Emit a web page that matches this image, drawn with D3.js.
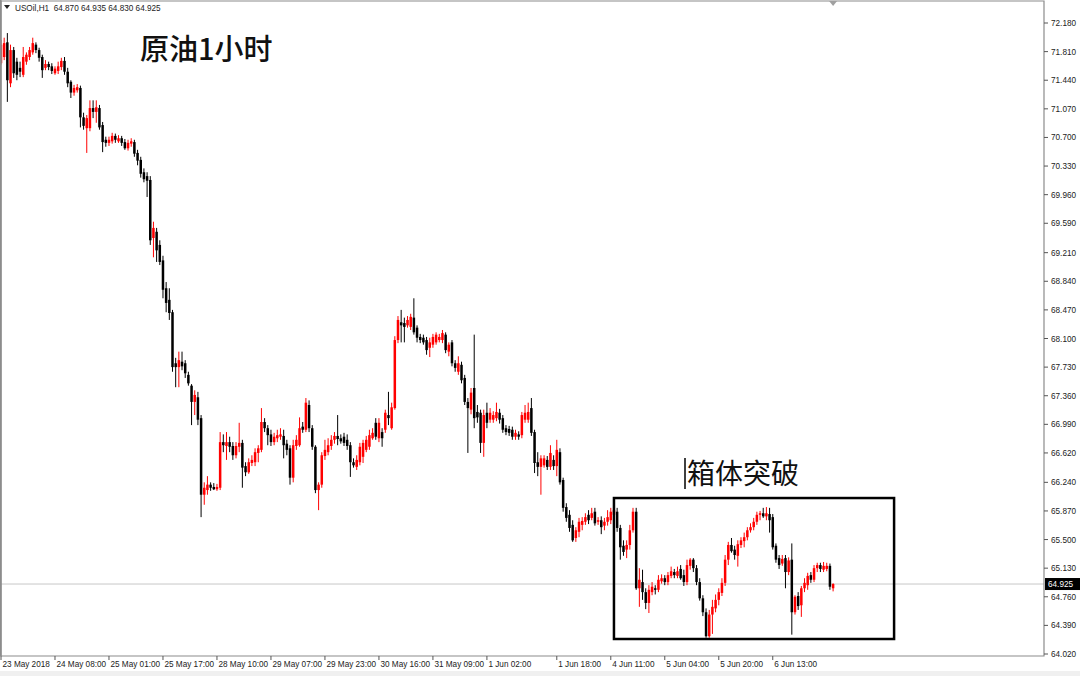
<!DOCTYPE html>
<html>
<head>
<meta charset="utf-8">
<script src="https://cdn.jsdelivr.net/npm/d3@7"></script>
<style>
  html, body { margin: 0; padding: 0; background: #ffffff; }
  svg { display: block; }
</style>
</head>
<body>
<svg id="chart" width="1080" height="676"></svg>
<script>
// ---- DATA (USOil H1, [open, high, low, close]) ----
const ohlc = [
[71.66,71.96,71.64,71.90],[71.74,71.99,71.70,71.92],[71.93,72.05,71.16,71.44],[71.40,71.90,71.35,71.83],
[71.83,71.87,71.47,71.53],[71.68,71.73,71.44,71.51],[71.60,71.68,71.48,71.55],[71.51,71.87,71.48,71.74],
[71.68,71.80,71.64,71.77],[71.74,71.87,71.70,71.83],[71.80,71.99,71.77,71.92],[71.90,71.93,71.79,71.83],
[71.83,71.86,71.68,71.73],[71.74,71.77,71.47,71.57],[71.60,71.70,71.57,71.65],[71.65,71.68,71.57,71.61],
[71.62,71.66,71.52,71.56],[71.53,71.62,71.51,71.59],[71.56,71.68,71.52,71.62],[71.61,71.73,71.57,71.69],
[71.69,71.74,71.51,71.55],[71.55,71.60,71.35,71.40],[71.42,71.44,71.21,71.28],[71.28,71.38,71.24,71.34],
[71.31,71.39,71.28,71.35],[71.34,71.37,70.83,70.96],[70.96,71.02,70.80,70.85],[70.82,70.99,70.50,70.95],
[70.82,71.18,70.78,71.08],[71.08,71.18,70.95,71.03],[71.03,71.18,70.89,71.09],[71.08,71.12,70.80,70.83],
[70.86,70.90,70.51,70.64],[70.67,70.71,70.58,70.63],[70.63,70.71,70.59,70.67],[70.65,70.76,70.62,70.72],
[70.72,70.75,70.63,70.67],[70.65,70.73,70.63,70.69],[70.69,70.72,70.59,70.63],[70.64,70.68,70.54,70.56],
[70.56,70.67,70.53,70.63],[70.62,70.69,70.58,70.65],[70.64,70.67,70.45,70.49],[70.50,70.54,70.34,70.40],
[70.41,70.45,70.18,70.23],[70.25,70.30,70.12,70.16],[70.20,70.25,69.93,70.14],[70.15,70.20,69.31,69.37],
[69.40,69.61,69.15,69.53],[69.48,69.53,69.09,69.24],[69.31,69.37,69.05,69.09],[69.11,69.17,68.62,68.73],
[68.75,68.83,68.44,68.56],[68.60,68.75,68.34,68.43],[68.44,68.47,67.67,67.73],[67.78,67.85,67.47,67.73],
[67.73,67.93,67.47,67.82],[67.80,67.93,67.69,67.74],[67.78,67.82,67.59,67.65],[67.63,67.67,67.49,67.52],
[67.49,67.51,66.98,67.28],[67.28,67.43,67.11,67.37],[67.34,67.41,66.98,67.05],[67.07,67.11,65.79,66.08],
[66.08,66.24,65.95,66.17],[66.14,66.32,66.08,66.21],[66.21,66.24,66.13,66.17],[66.18,66.23,66.14,66.15],
[66.15,66.22,66.13,66.18],[66.17,66.89,66.14,66.76],[66.76,66.86,66.63,66.72],[66.71,66.89,66.53,66.76],
[66.76,66.83,66.63,66.70],[66.71,66.76,66.53,66.59],[66.59,66.76,66.55,66.71],[66.70,67.01,66.63,66.75],
[66.75,66.79,66.17,66.43],[66.45,66.50,66.32,66.37],[66.37,66.55,66.35,66.50],[66.49,66.59,66.45,66.53],
[66.50,66.68,66.45,66.63],[66.62,66.72,66.50,66.68],[66.66,67.20,66.63,67.02],[67.02,67.07,66.89,66.94],
[66.94,66.98,66.72,66.85],[66.86,66.92,66.71,66.76],[66.76,66.88,66.72,66.83],[66.81,66.92,66.76,66.85],
[66.83,66.94,66.79,66.86],[66.84,66.92,66.55,66.72],[66.74,66.79,66.59,66.66],[66.68,66.72,66.21,66.30],
[66.30,66.79,66.24,66.72],[66.71,66.85,66.66,66.79],[66.72,67.08,66.70,66.94],[66.96,67.02,66.88,66.92],
[66.92,67.33,66.89,67.27],[67.24,67.30,66.89,66.94],[66.94,66.98,66.66,66.70],[66.70,66.72,66.10,66.14],
[66.14,66.24,65.88,66.21],[66.21,66.63,66.17,66.59],[66.58,66.79,66.53,66.66],[66.63,66.81,66.59,66.72],
[66.71,66.85,66.66,66.79],[66.79,66.89,66.74,66.84],[66.84,67.11,66.72,66.80],[66.81,66.86,66.74,66.77],
[66.83,66.88,66.71,66.75],[66.79,66.86,66.66,66.71],[66.72,66.76,66.31,66.50],[66.50,66.55,66.43,66.46],
[66.44,66.59,66.40,66.53],[66.50,66.75,66.46,66.70],[66.57,66.79,66.49,66.75],[66.66,66.84,66.63,66.79],
[66.70,66.92,66.66,66.85],[66.81,66.94,66.79,66.88],[67.01,67.07,66.79,66.83],[66.81,67.07,66.76,67.01],
[66.89,66.94,66.70,66.81],[66.92,67.18,66.88,67.14],[67.11,67.41,66.98,67.07],[66.94,67.27,66.92,67.21],
[67.20,68.13,67.18,68.08],[68.08,68.39,68.04,68.34],[68.31,68.47,68.05,68.27],[68.30,68.37,68.05,68.25],
[68.27,68.39,68.24,68.34],[68.25,68.42,68.21,68.38],[68.37,68.62,68.15,68.18],[68.24,68.27,68.05,68.11],
[68.12,68.16,68.04,68.08],[68.11,68.15,68.02,68.05],[68.08,68.12,67.89,67.95],[67.98,68.11,67.86,68.05],
[68.02,68.16,67.98,68.12],[68.05,68.18,68.02,68.15],[68.08,68.16,68.05,68.12],[68.08,68.21,68.04,68.17],
[68.15,68.18,67.91,67.95],[67.93,68.05,67.87,68.02],[68.05,68.08,67.74,67.78],[67.78,67.82,67.67,67.72],
[67.67,67.87,67.63,67.78],[67.76,67.80,67.52,67.56],[67.59,67.63,67.24,67.28],[67.28,67.33,66.62,67.20],
[67.18,67.46,67.12,67.40],[67.46,68.15,66.94,67.07],[67.15,67.24,67.01,67.08],[67.14,67.18,66.62,66.75],
[66.75,67.18,66.57,67.11],[67.14,67.27,66.94,67.01],[67.05,67.20,67.01,67.14],[67.05,67.16,67.01,67.11],
[67.07,67.27,67.03,67.15],[67.14,67.19,67.00,67.05],[67.07,67.11,66.88,66.92],[66.94,66.98,66.85,66.89],
[66.93,66.97,66.84,66.88],[66.92,66.96,66.79,66.83],[66.83,66.92,66.79,66.88],[66.86,66.90,66.79,66.83],
[66.85,67.15,66.81,67.11],[67.05,67.24,67.01,67.14],[67.05,67.27,67.01,67.15],[67.20,67.33,66.84,66.88],
[66.89,66.92,66.36,66.49],[66.50,66.63,66.32,66.44],[66.44,66.59,66.08,66.55],[66.46,66.59,66.43,66.55],
[66.53,66.58,66.40,66.44],[66.44,66.72,66.40,66.62],[66.53,66.59,66.40,66.45],[66.45,66.79,66.32,66.66],
[66.63,66.68,66.21,66.24],[66.27,66.30,65.86,65.91],[65.92,65.97,65.73,65.78],[65.82,65.88,65.60,65.65],
[65.69,65.75,65.47,65.49],[65.52,65.66,65.47,65.62],[65.60,65.78,65.53,65.73],[65.69,65.79,65.62,65.74],
[65.73,65.84,65.69,65.79],[65.82,65.88,65.70,65.75],[65.78,65.91,65.75,65.84],[65.86,65.91,65.68,65.71],
[65.73,65.79,65.69,65.75],[65.75,65.80,65.57,65.66],[65.68,65.78,65.62,65.73],[65.73,65.88,65.68,65.79],
[65.75,65.91,65.70,65.86],[65.82,65.93,65.75,65.88],[65.86,65.91,65.60,65.65],[65.65,65.69,65.24,65.40],
[65.42,65.49,65.29,65.34],[65.37,65.49,65.26,65.43],[65.43,65.69,65.37,65.62],[65.62,65.91,65.59,65.86],
[65.86,65.91,64.85,64.87],[64.87,65.13,64.63,64.98],[64.95,65.11,64.72,64.82],[64.82,64.87,64.60,64.68],
[64.68,64.91,64.55,64.85],[64.82,64.95,64.78,64.89],[64.87,64.91,64.79,64.85],[64.85,65.04,64.82,64.98],
[64.96,65.05,64.93,65.00],[65.00,65.04,64.91,64.95],[64.95,65.08,64.91,65.04],[65.03,65.15,65.00,65.09],
[65.08,65.12,65.00,65.04],[65.03,65.15,65.00,65.09],[65.12,65.17,64.98,65.00],[65.04,65.11,64.90,64.95],
[64.95,65.24,64.91,65.17],[65.16,65.26,65.11,65.24],[65.24,65.26,65.08,65.13],[65.13,65.17,64.91,64.95],
[64.95,65.00,64.71,64.74],[64.74,64.78,64.51,64.56],[64.56,64.61,64.23,64.25],[64.25,64.59,64.23,64.53],
[64.53,64.72,64.28,64.63],[64.61,64.79,64.56,64.72],[64.72,64.87,64.65,64.82],[64.81,65.00,64.77,64.94],
[64.94,65.30,64.90,65.24],[65.24,65.47,65.17,65.43],[65.43,65.52,65.33,65.35],[65.37,65.42,65.24,65.30],
[65.29,65.49,65.15,65.44],[65.43,65.53,65.39,65.49],[65.48,65.59,65.40,65.53],[65.53,65.66,65.49,65.62],
[65.62,65.71,65.59,65.66],[65.66,65.78,65.62,65.73],[65.73,65.86,65.69,65.82],[65.82,65.87,65.75,65.84],
[65.84,65.91,65.78,65.80],[65.80,65.92,65.75,65.84],[65.83,65.91,65.59,65.75],[65.79,65.83,65.37,65.40],
[65.42,65.45,65.20,65.24],[65.26,65.30,65.12,65.17],[65.19,65.30,65.16,65.25],[65.26,65.30,64.87,65.08],
[65.08,65.27,65.04,65.23],[65.24,65.45,64.27,64.56],[64.56,64.78,64.53,64.76],[64.77,64.82,64.59,64.64],
[64.65,64.90,64.50,64.87],[64.87,65.00,64.82,64.94],[64.91,65.07,64.85,65.03],[65.04,65.08,64.94,64.98],
[64.98,65.17,64.95,65.13],[65.13,65.20,65.08,65.17],[65.17,65.20,65.08,65.12],[65.11,65.21,65.08,65.16],
[65.12,65.20,65.09,65.16],[65.16,65.19,64.85,64.89],[64.870,64.935,64.830,64.925]
];

const priceTicks = [72.180,71.810,71.440,71.070,70.700,70.330,69.960,69.590,69.210,68.840,68.470,68.100,
                    67.730,67.360,66.990,66.620,66.240,65.870,65.500,65.130,64.760,64.390,64.020];
const timeTickBars = [0,17,34,51,68,85,102,119,136,153,175,192,209,226,243];
const timeTickLabels = ["23 May 2018","24 May 08:00","25 May 01:00","25 May 17:00","28 May 10:00",
  "29 May 07:00","29 May 23:00","30 May 16:00","31 May 09:00","1 Jun 02:00","1 Jun 18:00",
  "4 Jun 11:00","5 Jun 04:00","5 Jun 20:00","6 Jun 13:00"];
const symbolLabel = "USOil,H1";
const lastBarValues = ["64.870","64.935","64.830","64.925"];
const currentPrice = 64.925;
const titleText = "原油1小时";
const boxLabel = "箱体突破";
const boxFromBar = 193.0, boxToBar = 281.2;
const boxTopPrice = 66.037, boxBottomPrice = 64.214;

// ---- LAYOUT ----
const W = 1080, H = 676;
const plot = { left: 1, right: 1044, top: 1, bottom: 656 };
const svg = d3.select("#chart");

const y = d3.scaleLinear().domain([64.02, 72.18]).range([654, 23]);
const x = d3.scaleLinear().domain([0, ohlc.length - 1]).range([1, 833.1]);
const bodyW = 2.5;

// background
svg.append("rect").attr("x", 0).attr("y", 0).attr("width", W).attr("height", H).attr("fill", "#ffffff");
svg.append("rect").attr("x", 0).attr("y", 671).attr("width", W).attr("height", 5).attr("fill", "#f0f0f0");

// current price line
svg.append("line")
  .attr("x1", plot.left).attr("x2", plot.right)
  .attr("y1", y(currentPrice)).attr("y2", y(currentPrice))
  .attr("stroke", "#c8c8c8").attr("stroke-width", 1);

// candles
const g = svg.append("g");
const up = d => d[3] >= d[0];
g.selectAll("line.wick").data(ohlc).join("line")
  .attr("class", "wick")
  .attr("x1", (d, i) => x(i)).attr("x2", (d, i) => x(i))
  .attr("y1", d => y(d[1])).attr("y2", d => y(d[2]))
  .attr("stroke", d => up(d) ? "#ff0000" : "#000000")
  .attr("stroke-width", 1);
g.selectAll("rect.body").data(ohlc).join("rect")
  .attr("class", "body")
  .attr("x", (d, i) => x(i) - bodyW / 2)
  .attr("y", d => y(Math.max(d[0], d[3])))
  .attr("width", bodyW)
  .attr("height", d => Math.max(1, Math.abs(y(d[0]) - y(d[3]))))
  .attr("fill", d => up(d) ? "#ff0000" : "#000000");

// frame
svg.append("path")
  .attr("d", `M${plot.left},${plot.top}H${plot.right}V${plot.bottom}H${plot.left}Z`)
  .attr("fill", "none").attr("stroke", "#8c8c8c").attr("stroke-width", 1.2);
svg.append("line").attr("x1", 0.8).attr("x2", 0.8).attr("y1", 0).attr("y2", plot.bottom)
  .attr("stroke", "#8c8c8c").attr("stroke-width", 1.6);

// right price axis
const ya = svg.append("g");
ya.selectAll("line").data(priceTicks).join("line")
  .attr("x1", plot.right).attr("x2", plot.right + 4)
  .attr("y1", d => y(d)).attr("y2", d => y(d))
  .attr("stroke", "#555").attr("stroke-width", 1);
ya.selectAll("text").data(priceTicks).join("text")
  .attr("x", plot.right + 7).attr("y", d => y(d) + 3)
  .attr("font-family", "'Liberation Sans', Arial, sans-serif").attr("font-size", 8.2)
  .attr("fill", "#222")
  .text(d => d3.format(".3f")(d));

// current price tag
svg.append("rect").attr("x", plot.right + 1).attr("y", y(currentPrice) - 6)
  .attr("width", 35).attr("height", 12).attr("fill", "#000");
svg.append("text").attr("x", plot.right + 4).attr("y", y(currentPrice) + 3)
  .attr("font-family", "'Liberation Sans', Arial, sans-serif").attr("font-size", 8.2)
  .attr("fill", "#fff").text(d3.format(".3f")(currentPrice));

// time axis
const xa = svg.append("g");
xa.selectAll("line").data(timeTickBars).join("line")
  .attr("x1", d => x(d)).attr("x2", d => x(d))
  .attr("y1", plot.bottom).attr("y2", plot.bottom + 4)
  .attr("stroke", "#555").attr("stroke-width", 1);
xa.selectAll("text").data(timeTickBars).join("text")
  .attr("x", d => x(d) + 1.5).attr("y", plot.bottom + 11)
  .attr("font-family", "'Liberation Sans', Arial, sans-serif").attr("font-size", 8.2)
  .attr("fill", "#222")
  .text((d, i) => timeTickLabels[i]);

// header
svg.append("path").attr("d", "M4,5 L10,5 L7,9 Z").attr("fill", "#222");
svg.append("text").attr("x", 15).attr("y", 11)
  .attr("font-family", "'Liberation Sans', Arial, sans-serif").attr("font-size", 8.2)
  .attr("fill", "#222")
  .attr("xml:space", "preserve")
  .text(symbolLabel + "  " + lastBarValues.join(" "));

// chart-shift marker
const shiftX = x(ohlc.length - 1);
svg.append("path").attr("d", `M${shiftX - 4},1 L${shiftX + 4},1 L${shiftX},6 Z`).attr("fill", "#a0a0a0");

// title
svg.append("text").attr("x", 140).attr("y", 60)
  .attr("font-family", "'Noto Sans CJK SC', sans-serif").attr("font-size", 29)
  .attr("font-weight", 500).attr("fill", "#111")
  .text(titleText);

// breakout box
svg.append("rect")
  .attr("x", x(boxFromBar)).attr("y", y(boxTopPrice))
  .attr("width", x(boxToBar) - x(boxFromBar))
  .attr("height", y(boxBottomPrice) - y(boxTopPrice))
  .attr("fill", "none").attr("stroke", "#000").attr("stroke-width", 2.5);

// box label with cursor bar
svg.append("line").attr("x1", 685).attr("x2", 685).attr("y1", 458).attr("y2", 489)
  .attr("stroke", "#000").attr("stroke-width", 1.5);
svg.append("text").attr("x", 687).attr("y", 484)
  .attr("font-family", "'Noto Sans CJK SC', sans-serif").attr("font-size", 28)
  .attr("font-weight", 400).attr("fill", "#111")
  .text(boxLabel);
</script>
</body>
</html>
